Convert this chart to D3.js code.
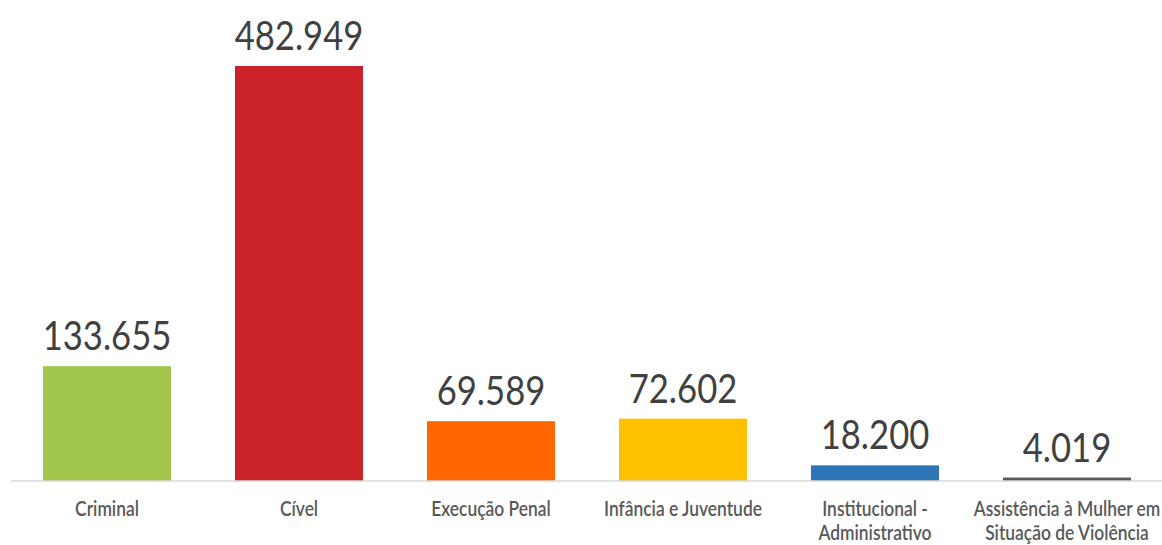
<!DOCTYPE html>
<html lang="pt">
<head>
<meta charset="UTF-8">
<script src="https://d3js.org/d3.v7.min.js"></script>
<style>
  body { margin: 0; background: #fff; }
  .value { font-family: Lato, sans-serif; font-size: 41px; fill: #404040; }
  .cat { font-family: Lato, sans-serif; font-size: 21px; font-weight: 600; fill: #595959; }
  .baseline { stroke: #d9d9d9; stroke-width: 1.5px; }
</style>
</head>
<body>
<script>
// chart data
var categories = ["Criminal", "Cível", "Execução Penal", "Infância e Juventude",
                  "Institucional - Administrativo", "Assistência à Mulher em Situação de Violência"];
var labelLines = [["Criminal"], ["Cível"], ["Execução Penal"], ["Infância e Juventude"],
                  ["Institucional -", "Administrativo"], ["Assistência à Mulher em", "Situação de Violência"]];
var values = [133655, 482949, 69589, 72602, 18200, 4019];
var colors = ["#a2c54b", "#cc232a", "#ff6600", "#ffc000", "#2e75b6", "#595959"];

var width = 1162, height = 545;
var valueSqueeze = 0.845, catSqueeze = 0.83; // narrow type look

var svg = d3.select("body").append("svg")
  .attr("width", width)
  .attr("height", height);

var x = d3.scaleBand()
  .domain(categories)
  .range([11, 1163])
  .paddingInner(1 / 3)
  .paddingOuter(1 / 6);

var y = d3.scaleLinear()
  .domain([0, d3.max(values)])
  .range([481, 66]);

var fmt = function(v) { return d3.format(",")(v).replace(/,/g, "."); };

// bars
svg.selectAll("rect.bar")
  .data(values)
  .enter().append("rect")
  .attr("class", "bar")
  .attr("x", function(d, i) { return x(categories[i]); })
  .attr("width", x.bandwidth())
  .attr("y", function(d) { return y(d); })
  .attr("height", function(d) { return y(0) - y(d); })
  .attr("fill", function(d, i) { return colors[i]; });

// baseline
svg.append("line")
  .attr("class", "baseline")
  .attr("x1", 11).attr("x2", width)
  .attr("y1", y(0)).attr("y2", y(0));

// value labels
svg.selectAll("text.value")
  .data(values)
  .enter().append("text")
  .attr("class", "value")
  .attr("text-anchor", "middle")
  .attr("transform", function(d, i) {
    return "translate(" + (x(categories[i]) + x.bandwidth() / 2) + "," + (y(d) - 16) + ") scale(" + valueSqueeze + ",1)";
  })
  .text(fmt);

// category labels
var cats = svg.selectAll("text.cat")
  .data(labelLines)
  .enter().append("text")
  .attr("class", "cat")
  .attr("text-anchor", "middle")
  .attr("transform", function(d, i) {
    return "translate(" + (x(categories[i]) + x.bandwidth() / 2) + ",516) scale(" + catSqueeze + ",1)";
  });

cats.selectAll("tspan")
  .data(function(d) { return d; })
  .enter().append("tspan")
  .attr("x", 0)
  .attr("dy", function(d, j) { return j === 0 ? 0 : 24; })
  .text(function(d) { return d; });
</script>
</body>
</html>
